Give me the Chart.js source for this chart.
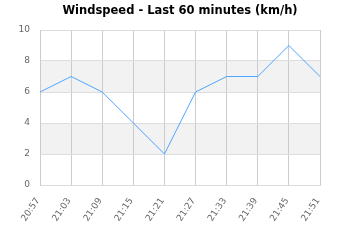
<!DOCTYPE html>
<html>
<head>
<meta charset="utf-8">
<script src="https://cdn.jsdelivr.net/npm/chart.js@4/dist/chart.umd.min.js"></script>
<style>
  html, body { margin: 0; padding: 0; background: #fff; }
  #wrap { width: 360px; height: 240px; }
</style>
</head>
<body>
<div id="wrap"><canvas id="windChart"></canvas></div>
<script>
const chartTitle = 'Windspeed - Last 60 minutes (km/h)';
const times = ['20:57', '21:03', '21:09', '21:15', '21:21', '21:27', '21:33', '21:39', '21:45', '21:51'];
const windspeed = [6, 7, 6, 4, 2, 6, 7, 7, 9, 7];
const yTicks = [0, 2, 4, 6, 8, 10];

// shade every other band between y ticks
const bandPlugin = {
    id: 'bands',
    beforeDraw(chart) {
        const { ctx, chartArea, scales } = chart;
        const y = scales.y;
        ctx.save();
        ctx.fillStyle = '#f2f2f2';
        for (let i = 1; i < yTicks.length - 1; i += 2) {
            const top = y.getPixelForValue(yTicks[i + 1]);
            const bottom = y.getPixelForValue(yTicks[i]);
            ctx.fillRect(chartArea.left, top, chartArea.right - chartArea.left, bottom - top);
        }
        ctx.restore();
    }
};

// title centred on the whole canvas, not just the padded box
const titlePlugin = {
    id: 'centerTitle',
    afterDraw(chart) {
        const { ctx, width } = chart;
        ctx.save();
        ctx.fillStyle = '#000';
        ctx.font = 'bold 11.5px "DejaVu Sans"';
        ctx.textAlign = 'center';
        ctx.textBaseline = 'middle';
        ctx.fillText(chartTitle, width / 2, 11);
        ctx.restore();
    }
};

const ctx = document.getElementById('windChart').getContext('2d');
new Chart(ctx, {
    type: 'line',
    data: {
        labels: times,
        datasets: [{
            data: windspeed,
            borderColor: '#4da6ff',
            borderWidth: 1,
            pointRadius: 0,
            tension: 0,
            fill: false
        }]
    },
    options: {
        responsive: true,
        maintainAspectRatio: false,
        animation: false,
        layout: { padding: { left: 0, right: 40, top: 30, bottom: 0 } },
        plugins: {
            legend: { display: false },
            tooltip: { enabled: false },
            title: { display: false }
        },
        scales: {
            x: {
                grid: { color: '#cccccc', drawTicks: false },
                border: { color: '#dddddd' },
                ticks: {
                    color: '#666',
                    font: { family: 'DejaVu Sans', size: 9 },
                    minRotation: 56,
                    maxRotation: 56,
                    padding: 11,
                    labelOffset: -2,
                    autoSkip: false
                },
                afterFit(scale) { scale.height = 55; }
            },
            y: {
                min: 0,
                max: 10,
                grid: { color: '#dddddd', drawTicks: false },
                border: { color: '#cccccc' },
                ticks: {
                    stepSize: 2,
                    color: '#666',
                    font: { family: 'DejaVu Sans', size: 9 },
                    padding: 10
                },
                afterFit(scale) { scale.width = 40; }
            }
        }
    },
    plugins: [bandPlugin, titlePlugin]
});
</script>
</body>
</html>
